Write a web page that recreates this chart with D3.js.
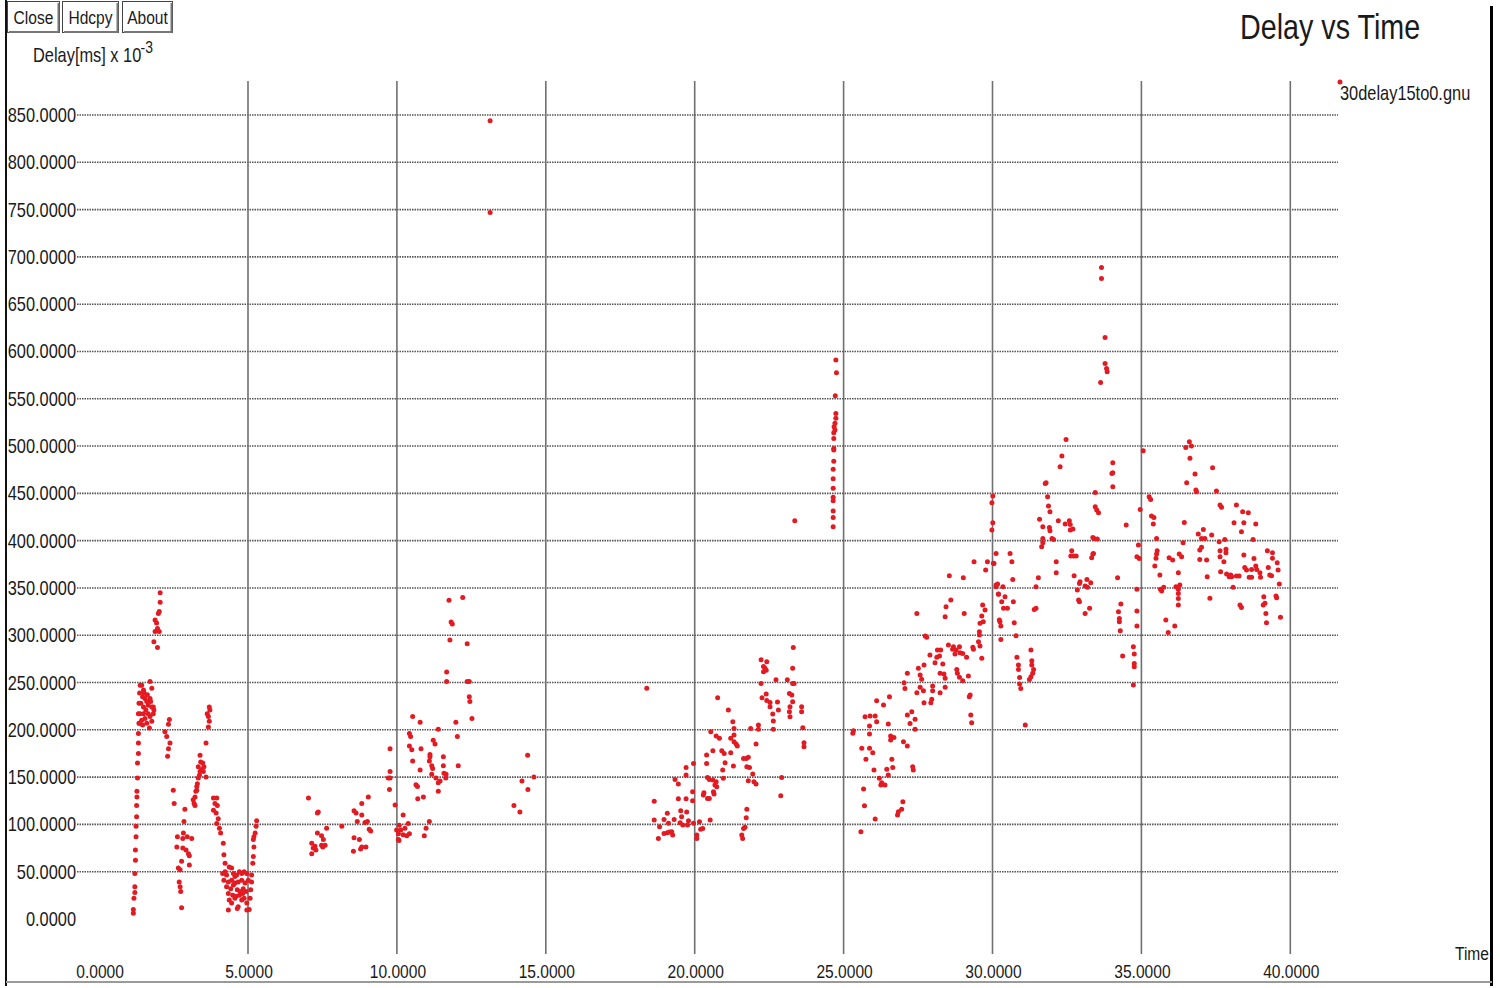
<!DOCTYPE html>
<html><head><meta charset="utf-8">
<script src="https://cdn.jsdelivr.net/npm/d3@7"></script>
<style>
body{margin:0;background:#fff;}
svg{display:block;}
text{font-family:"Liberation Sans",Arial,sans-serif;fill:#1a1a1a;}
</style></head><body>
<svg id="c" width="1500" height="988"></svg>
<script>
const title = "Delay vs Time";
const seriesName = "30delay15to0.gnu";
const yLabel = "Delay[ms] x 10";
const yLabelExp = "-3";
const xLabel = "Time";
const buttons = ["Close", "Hdcpy", "About"];
const xTicks = [0, 5, 10, 15, 20, 25, 30, 35, 40];
const yTicks = [0, 50, 100, 150, 200, 250, 300, 350, 400, 450, 500, 550, 600, 650, 700, 750, 800, 850];

// [time (s), delay (ms x 10^-3)]
const seg0to5 = [
[1.15,6],[1.15,10],[1.17,22],[1.2,28],[1.2,34],[1.2,48],[1.22,62],[1.22,73],[1.24,87],[1.24,98],[1.26,108],[1.26,120],[1.27,129],[1.27,135],[1.29,149],[1.29,165],[1.32,175],[1.32,186],[1.32,196],[1.34,207],[1.32,217],[1.34,228],[1.36,239],[1.38,247],
[1.43,247],[1.49,242],[1.46,235],[1.54,233],[1.40,228],[1.60,230],[1.71,251],[1.77,244],[1.71,233],[1.65,226],[1.77,224],[1.82,224],[1.49,224],[1.57,221],[1.37,217],[1.49,217],[1.65,217],[1.82,217],[1.71,214],[1.43,210],[1.54,212],[1.35,207],[1.60,207],[1.77,209],[1.69,202],[1.46,205],[1.84,221],[1.73,230],[1.62,237],[1.51,239],
[2.05,345],[2.05,335],[2.02,325],[1.99,323],[1.88,316],[1.93,313],[1.96,307],[1.88,304],[2.02,304],[1.84,293],[1.96,287],
[2.36,211],[2.33,206],[2.21,198],[2.27,193],[2.38,186],[2.33,180],[2.30,172],
[2.49,136],[2.52,122],[2.88,116],[2.85,103],[2.83,91],[2.63,87],[2.81,85],[2.96,87],[3.11,85],[2.61,76],[2.81,75],[2.92,73],[3.0,69],[3.03,67],[2.77,61],[3.03,57],[2.66,54],[2.72,52],[2.69,39],[2.72,34],[2.74,29],[2.77,12]
];
const seg3to5 = [
[3.19,122],[3.16,126],[3.22,129],[3.25,135],[3.28,140],[3.30,143],[3.33,149],[3.37,152],[3.39,156],[3.45,158],[3.50,156],[3.59,150],[3.33,161],[3.41,166],[3.39,173],[3.48,165],[3.59,186],[3.67,203],[3.70,209],[3.67,214],[3.63,217],[3.72,221],[3.70,224],[3.52,161],[3.28,136],[3.22,120],
[3.84,128],[3.95,128],[3.89,122],[3.97,120],[3.84,115],[3.93,112],[4.0,106],[3.95,101],[4.04,96],[4.08,91],[4.17,80],[4.19,68],[4.23,59],
[4.15,48],[4.23,50],[4.28,46.5],[4.37,55],[4.45,54],[4.51,48],[4.56,45],[4.62,46.5],[4.71,50],[4.79,48],[4.87,50],[4.19,41],[4.34,39],[4.45,41],[4.56,38],[4.67,39],[4.79,41],[4.28,34],[4.42,32],[4.51,36],[4.64,31],[4.73,29],[4.84,32],[4.34,27],[4.49,25],[4.6,24],[4.71,25],[4.82,27],[4.93,29],[4.37,20],[4.45,17],[4.56,22],[4.67,13],[4.79,20],[4.87,22],[4.96,17],[4.34,9.5],[4.64,11],[4.96,9.5],[5.04,10],[4.9,38],[5.01,41],[4.96,48],
[5.07,22],[5.09,31],[5.12,39],[5.12,46.5],[5.16,59],[5.18,66],[5.2,76],[5.18,84],[5.24,91],[5.27,98],[5.29,104],[5.2,87]
];
const seg7to15 = [
[7.03,128],[7.33,112],[7.36,113],[7.64,96],[8.15,98],[7.33,91],[7.47,88],[7.53,84],[7.14,80],[7.25,77],[7.19,75],[7.28,73],[7.14,69],[7.47,78],[7.59,78],[7.51,76],
[8.56,114.5],[8.63,112],[8.82,122],[9.04,129],[8.67,103],[8.93,102],[9.01,103],[9.07,95],[9.12,93],[8.56,86],[8.74,84],[8.82,76],[8.78,74],[8.96,76],[8.54,71.5],[8.82,110],
[9.77,156],[9.71,149],[9.77,149],[9.75,137],[9.94,120.5],[9.99,94],[10.05,84],
[11.75,337],[12.21,340],[11.82,314],[11.86,312],[11.78,295],[12.36,291],[11.67,261],[11.67,251],[12.36,251],[12.43,251],[12.43,235],[12.45,230],[12.52,212],
[10.53,214],[10.78,208],[11.98,208],[11.39,200.5],[12.03,193],[10.42,196],[10.46,193],[10.42,183],[10.5,179],[10.81,180],[11.22,189],[11.28,185],[9.77,180],[11.11,174],[11.11,171.5],[11.09,167],[11.17,162],[11.2,159],[11.56,171.5],[11.56,162],[10.53,167],[10.78,157.5],[11.17,153],[11.58,154],[11.65,153],[11.64,149],[11.31,149],[11.45,146],[11.39,144],[11.39,135],[12.06,162],
[10.64,142],[10.69,140],[10.7,127],[10.89,129],[10.21,110],[10.08,99],[10.13,94],[10.27,96],[10.38,101],[10.05,90],[10.21,89],[10.33,88],[10.42,90],[10.07,83],[11.09,103],[10.98,96],[10.92,88],
[13.13,844],[13.13,747],
[14.39,173],[14.6,150],[14.2,146],[14.4,137],[13.93,120],[14.13,113]
];
const seg18to24 = [
[18.39,244],[23.36,421],
[23.31,287],[22.23,274],[22.42,272],[22.31,267],[22.36,265],[22.40,263],[22.31,261.4],[22.73,253],[23.11,253],[23.29,265],[22.23,249],[23.29,249],[23.34,249],
[20.77,234],[22.26,234],[22.40,238],[22.42,231],[22.53,229],[22.53,224.4],[22.78,229.4],[22.81,221],[23.18,238.5],[23.26,236.8],[23.29,229.7],[23.20,224.4],[23.18,219],[23.20,213.9],[23.59,224.4],[23.59,219],
[21.13,221],[22.62,216.7],[22.64,209.3],[22.64,200.5],[23.63,202.2],[23.67,186.4],[23.67,182.2],[21.28,208.6],[21.32,201.5],[21.88,201.5],[22.14,205],[22.14,200.5],
[20.54,198],[20.72,193.4],[20.83,191],[21.21,191],[21.32,194.5],[21.32,187.4],[21.39,185],[21.43,182.8],[22.06,185],[20.61,178],[20.91,178],[20.99,175.1],[21.21,175.8],[20.40,173.3],[21.02,165.2],[20.40,164.5],[21.30,161.7],[21.64,169.8],[21.73,169.8],[21.80,170.9],[21.75,161],[21.84,160.3],[21.95,153.3],
[19.96,164.5],[19.71,160.3],[19.71,152.2],[20.94,157.5],[20.96,148.7],[20.61,146.9],[20.49,147.6],[20.43,149.7],[20.72,145.2],[20.68,141.6],[20.74,139.9],[21.80,146.2],[21.99,145.2],[22.06,142.7],[22.92,149.7],
[19.34,147.6],[19.45,142.7],[19.93,134.6],[20.63,134.6],[20.65,132.1],[20.31,133.5],[20.29,131.1],[20.43,127.5],[20.49,127.5],[19.45,127.2],[19.71,127.2],[19.93,125.1],[18.64,124.4],[22.89,130.4],
[19.08,111.7],[19.53,114.5],[19.73,113.1],[19.56,108.2],[18.64,104.6],[18.97,105.3],[19.31,105.3],[19.51,101.8],[19.60,99.3],[19.79,103.9],[19.96,101.1],[20.16,102.9],[20.52,104.6],[21.75,115.9],[21.73,107.1],[21.69,96.9],
[18.82,97.6],[19.12,101.1],[19.15,91.9],[18.97,90.5],[19.08,91.2],[19.23,92.3],[19.26,88.8],[18.78,85.2],[20.07,88.8],[20.07,85.2],[20.20,94.8],[20.27,95.8],[21.58,88.8],[21.61,85.2],[21.64,95.8],[19.76,99.3]
];
const seg24to30 = [
[24.74,591],[24.76,577.5],[24.72,553.2],[24.74,534.5],[24.74,529.3],[24.71,524],[24.68,520.5],[24.71,517],[24.67,514],[24.67,508],[24.67,497.5],[24.67,495.8],[24.67,484],[24.65,475.4],[24.65,465.5],[24.65,455.3],[24.65,445.8],[24.65,442.2],[24.65,431.3],[24.65,424.6],[24.65,414.7],
[29.38,377.7],[29.83,377.7],[30.03,376],[29.77,368.9],[28.55,362.9],[29.02,360.8],[30.12,353.1],[30.20,343.6],[28.60,337.2],[28.44,330.2],[27.46,323.1],[28.41,319.6],[29.05,323.1],[29.67,331.9],[29.75,326.6],[29.64,320.3],[29.58,312.6],[29.69,314.3],[30.25,314.3],
[27.74,299.2],[27.79,297.8],[29.56,303.7],[29.56,300.2],[29.53,293.2],[29.58,288.6],[29.34,287.2],[29.36,285.1],[28.52,289.6],[28.69,287.9],[28.66,285.1],[28.78,284.4],[28.89,287.9],[28.91,281.5],[28.74,280.1],[29.00,280.8],[29.13,276.6],[28.15,284.4],[28.26,284.4],[28.22,278],[28.13,276.6],[28.07,271],[27.90,279.1],[28.33,269.6],[29.64,275.6],
[27.51,265],[27.70,268.5],[27.14,259.7],[27.57,257.9],[27.62,253.4],[28.24,259.7],[28.37,259],[28.41,254.4],[28.80,263.9],[28.82,259.7],[28.89,255.5],[29.00,252],[29.19,256.9],[27.03,249.8],[27.06,243.8],[27.57,244.9],[27.46,239.3],[27.68,241.4],[27.99,246.3],[27.99,241.4],[28.24,239.3],[28.41,244.9],[29.25,236.8],[29.22,235],[27.96,232.2],[27.70,228.7],[27.93,228.7],
[27.14,215.7],[27.29,219.2],[27.40,211.1],[27.23,206.8],[27.40,200.5],[29.27,215.7],[29.30,207.5],[26.11,230.8],[26.34,226.2],[26.54,235],[25.72,213.9],[25.89,214.6],[26.06,214.6],[25.87,204],[26.11,208.6],[26.50,206.1],[25.33,199.1],[25.31,196.3],[25.87,195.6],[26.58,193.5],[26.58,189.2],[26.69,192],[27.01,187.5],[27.14,182.9],
[25.61,180.4],[25.87,180.4],[25.98,175.8],[25.75,168.8],[26.62,168.8],[26.02,157.5],[26.45,158.2],[26.65,160.3],[27.32,161],[27.34,157.5],[26.50,152.2],[26.20,148.7],[26.28,144.1],[26.25,141.7],[26.39,141.7],[25.67,137.4],[25.70,119.8],[26.99,124],[26.95,115.9],[26.84,113.5],[26.81,110],[26.06,105.7],[25.58,92.3]
];
const seg30to35 = [
[33.66,688.9],[33.66,677.2],[33.78,614.9],[33.78,587.4],[33.83,582.1],[33.85,578.6],[33.63,567.3],
[32.47,507],[32.33,489.4],[32.27,478.1],[31.77,460.5],[31.80,461.2],[31.85,446.4],[31.88,436.6],[31.93,430.6],[31.58,422.5],[31.69,414.7],[31.91,414],[31.93,410.5],[31.69,402.4],[31.69,397.8],[31.65,393.6],[32.00,402.4],[32.05,401.3],[32.21,421.1],[32.44,417.5],[32.58,421.1],[32.61,417.2],[32.61,411.2],[32.70,412.2],[32.66,389.3],[32.63,383.7],[32.72,383.7],[32.81,383.7],
[32.14,377.7],[32.14,366.1],[32.74,362.9],[32.94,356.6],[32.92,354.8],[32.85,347.8],[33.17,359],[33.19,350.6],[33.30,355.5],[33.11,352],[32.89,337.2],[32.92,335.4],[33.11,323.1],[33.26,328.4],
[33.45,451],[33.45,435.9],[33.50,432.3],[33.56,429.5],[33.37,403.4],[33.41,402.4],[33.52,401.7],[33.37,385.8],[33.33,381.9],[33.39,386.5],[31.54,360.8],[31.46,351.3],[31.40,327.3],[31.46,328.4],
[30.01,447.1],[29.98,440.1],[30.01,419],[29.98,411.2],[30.12,386.5],[30.05,375.9],[30.59,386.5],[30.65,377.7],[30.68,359],[30.17,354.1],[30.12,351.3],[30.35,351.3],[30.20,343.2],[30.42,340.7],[30.31,335.4],[30.70,335.4],[30.37,328.4],[30.50,328.4],[30.23,316.1],[30.28,309.7],[30.28,295.6],[30.73,313.2],[30.79,299.5],
[30.82,276.6],[30.87,268.5],[30.87,263.9],[30.91,255.4],[30.91,248.4],[30.95,243.8],[31.29,284.3],[31.32,273.1],[31.32,268.5],[31.38,263.9],[31.35,259.7],[31.29,256.2],[31.24,253.3],[31.10,205.1],
[34.04,482.4],[34.01,471.1],[34.04,471.8],[34.04,457],[34.49,416.5],[34.20,360.8],[34.31,333],[34.23,324.9],[34.26,317.8],[34.26,314.3],[34.29,304.8],[34.37,278],[34.73,287.9],[34.76,280.1],[34.76,270.2],[34.76,266.7],[34.73,247.3],[34.85,383],[34.93,381.2],[34.85,348.5],[34.85,325.6],[34.85,309.7],[34.96,433],[34.90,395.3]
];
const seg35to40 = [
[35.06,495.1],[35.26,446.4],[35.31,443.6],[35.34,426],[35.42,424.6],[35.40,417.5],[35.51,402.4],[35.53,389.3],[35.51,385.8],[35.49,381.3],[35.45,373.1],[35.62,363.6],[35.64,348.5],[35.68,346.7],[35.75,350.6],[35.82,316.1],[35.90,303],[36.12,309.7],
[35.93,381.9],[36.05,379.5],[36.27,385.8],[36.35,383],[36.24,366.1],[36.29,353.1],[36.16,351.3],[36.24,348.5],[36.24,344.2],[36.24,338.9],[36.24,331.9],[36.40,397.8],[36.44,419.3],
[36.49,498.6],[36.61,504.6],[36.68,500],[36.63,487],[36.52,461.2],[36.80,470.4],[36.83,453.5],[36.85,451.7],[37.39,477.1],[37.52,452.4],[37.64,437.6],[37.69,435.2],
[36.91,407],[37.08,411.9],[37.02,402.4],[37.13,402.4],[37.02,392.9],[36.96,390.1],[36.96,380.2],[37.19,379.5],[37.21,361.9],[37.30,339],[37.36,405.9],[37.61,398.9],[37.64,389.3],[37.64,383],[37.80,401.3],[37.84,390.8],[37.84,387.2],[37.77,377.7],[37.66,367.1],[37.86,364.7],[37.95,361.9],[38.03,361.9],[38.08,350.6],
[38.19,437.6],[38.40,430.6],[38.59,429.5],[38.11,419],[38.44,419],[38.36,409.4],[38.84,417.5],[38.75,401.3],[38.28,362.6],[38.31,331.9],[38.36,329.4],[38.44,384.8],[38.47,371.7],[38.53,368.9],[38.62,361.2],[38.70,361.2],[38.78,381.2],[38.84,373.1],[38.98,366.1],[39.0,361.2],[38.87,369.6],
[39.09,331.9],[39.15,333.7],[39.11,340.7],[39.18,323.1],[39.20,313.3],[39.23,389.3],[39.26,371.7],[39.31,363.6],[39.37,362.9],[39.40,387.2],[39.40,381.3],[39.56,376.7],[39.59,368.9],[39.63,354.1],[39.52,341.4],[39.54,339.7],[39.67,318.9],[38.70,369.6],[38.19,362.6],[38.0,363.6]
];

const points = [].concat(seg0to5, seg3to5, seg7to15, seg18to24, seg24to30, seg30to35, seg35to40);

const svg = d3.select("#c");
const x = d3.scaleLinear().domain([0, 40]).range([99.1, 1290.3]);
const y = d3.scaleLinear().domain([0, 850]).range([919, 115]);
const fmt = d3.format(".4f");
const red = "#e41a22";
const SX = 0.82; // condensed look of the original

function ntext(parent, px, py, str, size, anchor) {
  return parent.append("text")
    .attr("transform", `translate(${px},${py}) scale(${SX},1)`)
    .attr("text-anchor", anchor || "start").attr("font-size", size).text(str);
}

// frame
svg.append("line").attr("x1", 6).attr("x2", 6).attr("y1", 0).attr("y2", 986).attr("stroke", "#111").attr("stroke-width", 2);
svg.append("line").attr("x1", 1491.5).attr("x2", 1491.5).attr("y1", 6).attr("y2", 986).attr("stroke", "#000").attr("stroke-width", 3);
svg.append("line").attr("x1", 6).attr("x2", 1492).attr("y1", 982).attr("y2", 982).attr("stroke", "#9a9a9a").attr("stroke-width", 2);

// buttons
const bx = [7, 62, 122], bw = [52, 56, 50];
buttons.forEach((b, i) => {
  const g = svg.append("g");
  g.append("rect").attr("x", bx[i] + 0.5).attr("y", 1.5).attr("width", bw[i]).attr("height", 31)
    .attr("fill", "#fff").attr("stroke", "#444").attr("stroke-width", 1);
  g.append("path").attr("d", `M${bx[i]+bw[i]-0.5},3 V${32} H${bx[i]+2}`).attr("fill", "none").attr("stroke", "#777").attr("stroke-width", 2);
  ntext(g, bx[i] + bw[i] / 2 + 0.5, 24, b, 19, "middle");
});

// axis label
const yl = ntext(svg, 33, 62, "", 20);
yl.append("tspan").text(yLabel);
yl.append("tspan").attr("dy", -9).attr("dx", -1).attr("font-size", 17).text(yLabelExp);

// title
ntext(svg, 1240, 39, title, 35);

// grid
svg.append("g").selectAll("line").data(yTicks.filter(d => d > 0)).join("line")
  .attr("x1", 77).attr("x2", 1338).attr("y1", d => y(d)).attr("y2", d => y(d))
  .attr("stroke", "#555").attr("stroke-width", 1.6).attr("stroke-dasharray", "1.5,1");
svg.append("g").selectAll("line").data(xTicks.filter(d => d > 0)).join("line")
  .attr("x1", d => x(d)).attr("x2", d => x(d)).attr("y1", 81).attr("y2", 954)
  .attr("stroke", "#707070").attr("stroke-width", 1.6);

// tick labels
svg.append("g").selectAll("text").data(yTicks).join("text")
  .attr("transform", d => `translate(76,${y(d) + 7}) scale(${SX},1)`)
  .attr("text-anchor", "end").attr("font-size", 20)
  .text(d => fmt(d));
svg.append("g").selectAll("text").data(xTicks).join("text")
  .attr("transform", d => `translate(${x(d) + 1},978) scale(${SX},1)`)
  .attr("text-anchor", "middle").attr("font-size", 19)
  .text(d => fmt(d));
ntext(svg, 1489, 960, xLabel, 19, "end");

// legend
svg.append("circle").attr("cx", 1340).attr("cy", 82).attr("r", 2.5).attr("fill", red);
ntext(svg, 1340, 100, seriesName, 20);

// points
svg.append("g").selectAll("circle").data(points).join("circle")
  .attr("cx", d => x(d[0])).attr("cy", d => y(d[1])).attr("r", 2.5).attr("fill", red);
</script>
</body></html>
